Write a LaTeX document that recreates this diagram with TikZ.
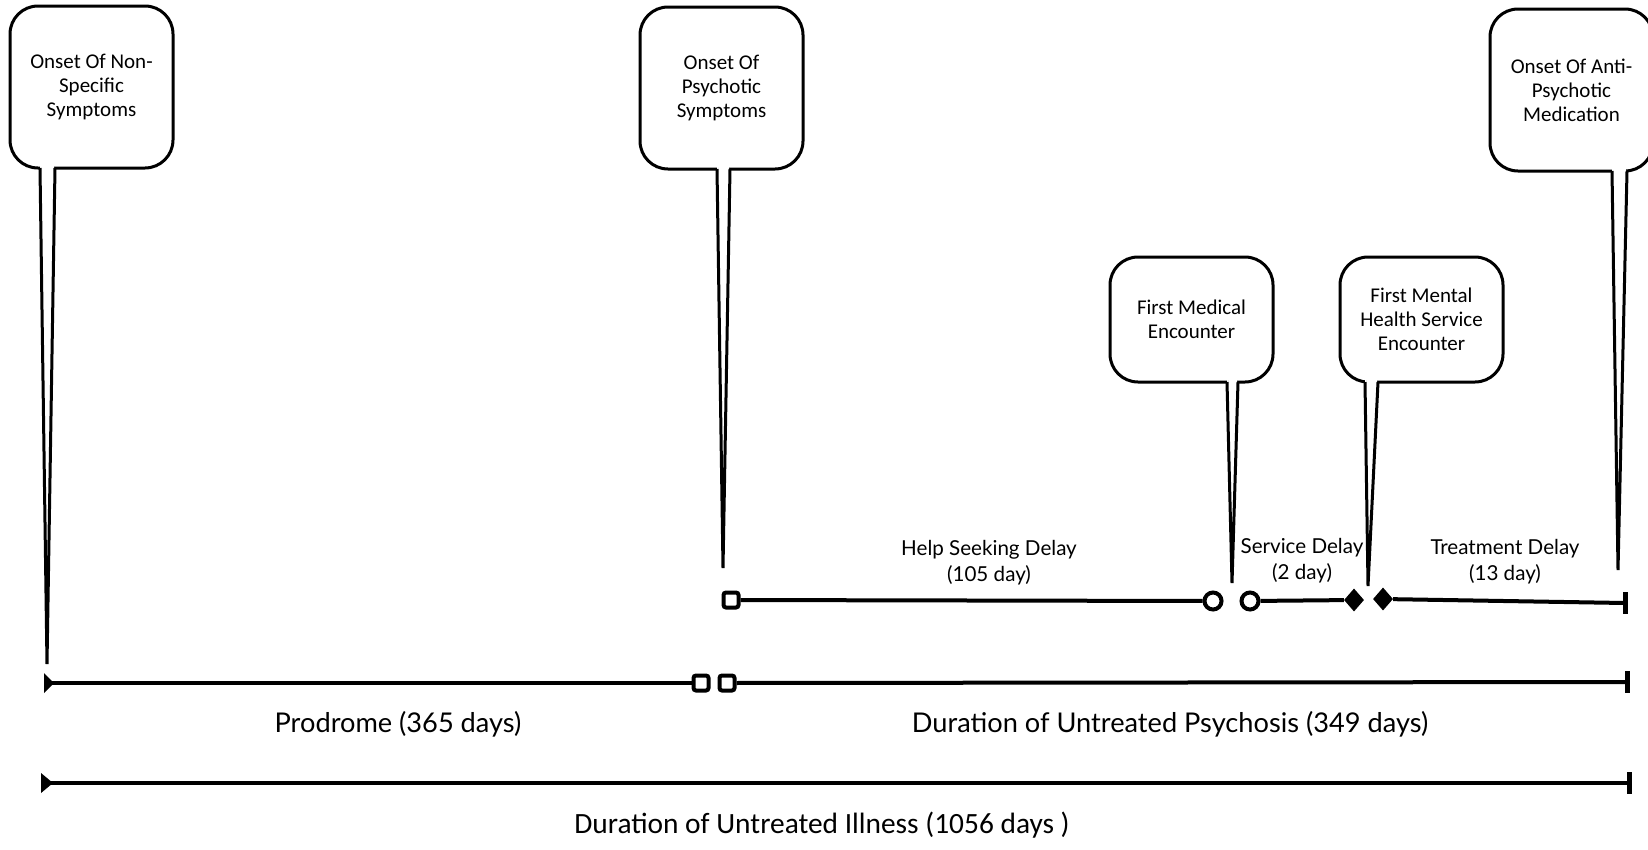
\documentclass[tikz,border=0pt]{standalone}
\usepackage{fontspec}
\setmainfont{Carlito}
\newfontfamily\gillfont{Lato}
\usetikzlibrary{shapes.geometric,calc}

\tikzset{
  callout/.style={draw, line width=3pt, rounded corners=28pt, fill=white,
    minimum width=163pt, minimum height=#1, inner sep=0pt, outer sep=0pt,
    align=center, font=\fontsize{21}{24}\selectfont},
  tailline/.style={line width=3pt, line join=miter},
  tl/.style={line width=4pt},
  sqmark/.style={draw, line width=4pt, rectangle, rounded corners=2.5pt, fill=white,
    minimum size=15pt, inner sep=0pt},
  circmark/.style={draw, line width=4pt, circle, fill=white, minimum size=17pt, inner sep=0pt},
  diamark/.style={diamond, fill=black, minimum width=20pt, minimum height=23pt, inner sep=0pt},
  delaylabel/.style={align=center, font=\gillfont\fontsize{20.6}{26}\selectfont},
  spanlabel/.style={font=\gillfont\fontsize{27.2}{30}\selectfont},
}

% callout tail: node, left x, right x, tip coordinate
\newcommand\calltail[4]{%
  \fill[white] (#1.south -| #2,0) ++(0,-2) -- (#4) -- (#1.south -| #3,0) ++(0,-2) -- cycle;
  \fill[white] ($(#1.south -| #2,0)+(1.5,-2)$) rectangle ($(#1.south -| #3,0)+(-1.5,2.5)$);
  \draw[tailline] (#1.south -| #2,0) -- (#4) -- (#1.south -| #3,0);
}

\begin{document}
\begin{tikzpicture}[x=1pt, y=-1pt]
\useasboundingbox (0,0) rectangle (1648,849);

% ---- callouts ----
\node[callout=162pt] (c1) at (91.5,87) {Onset Of Non-\\Specific\\Symptoms};
\node[callout=162pt] (c2) at (721.5,88) {Onset Of\\Psychotic\\Symptoms};
\node[callout=162pt] (c3) at (1571.5,90) {Onset Of Anti-\\Psychotic\\Medication};
\node[callout=125pt] (c4) at (1191.5,319.5) {First Medical\\Encounter};
\node[callout=125pt] (c5) at (1421.5,319.5) {First Mental\\Health Service\\Encounter};

\coordinate (t1) at (47,664);
\coordinate (t2) at (723,568);
\coordinate (t3) at (1618,570);
\coordinate (t4) at (1232,583);
\coordinate (t5) at (1368,586);

\calltail{c1}{40}{55}{t1}
\calltail{c2}{717}{730}{t2}
\calltail{c3}{1612}{1627}{t3}
\calltail{c4}{1227}{1238}{t4}
\calltail{c5}{1365}{1378}{t5}

% ---- pathway line: help seeking / service / treatment delays ----
\node[sqmark] (uq) at (731,600) {};
\node[circmark] (uc1) at (1213,601) {};
\node[circmark] (uc2) at (1250,601) {};
\node[diamark] (ud1) at (1354,600) {};
\node[diamark] (ud2) at (1383,599) {};
\coordinate (ue) at (1625,603);
\draw[tl] (uq) -- (uc1);
\draw[tl] (uc2) -- (ud1);
\draw[tl] (ud2) -- (ue);
\draw[line width=5pt] ($(ue)+(0,-11)$) -- ($(ue)+(0,11)$);

\node[delaylabel] (lhs) at (989,563) {Help Seeking Delay\\(105 day)};
\node[delaylabel] (lsd) at (1302,561) {Service Delay\\(2 day)};
\node[delaylabel] (ltd) at (1505,562) {Treatment Delay\\(13 day)};

% ---- prodrome / DUP line ----
\coordinate (m0) at (44,683);
\node[sqmark] (mq1) at (701,683) {};
\node[sqmark] (mq2) at (727,683) {};
\coordinate (me) at (1627,682);
\draw[tl] (m0) -- (mq1);
\draw[tl] (mq2) -- (me);
\fill (m0) ++(0,-10) -- ++(10,10) -- ++(-10,10) -- cycle;
\draw[line width=5pt] ($(me)+(0,-11)$) -- ($(me)+(0,11)$);

\node[spanlabel] (lpro) at (398,724) {Prodrome (365 days)};
\node[spanlabel] (ldup) at (1170,724) {Duration of Untreated Psychosis (349 days)};

% ---- DUI line ----
\coordinate (b0) at (41,783);
\coordinate (be) at (1629,783);
\draw[tl] (b0) -- (be);
\fill (b0) ++(0,-10) -- ++(12,10) -- ++(-12,10) -- cycle;
\draw[line width=5pt] ($(be)+(0,-11)$) -- ($(be)+(0,11)$);

\node[font=\fontsize{29.4}{32}\selectfont] (ldui) at (822,825) {Duration of Untreated Illness (1056 days )};
\end{tikzpicture}
\end{document}
